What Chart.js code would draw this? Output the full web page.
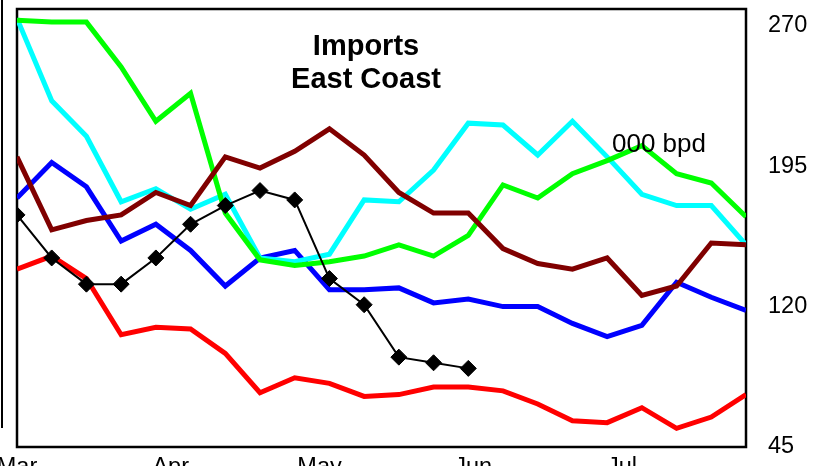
<!DOCTYPE html>
<html>
<head>
<meta charset="utf-8">
<script src="https://cdn.jsdelivr.net/npm/chart.js@4/dist/chart.umd.min.js"></script>
<style>
  html, body { margin: 0; padding: 0; background: #fff; }
  #wrap { position: relative; width: 818px; height: 466px; overflow: hidden; }
  #edge { position: absolute; left: 1px; top: 0; width: 2px; height: 428px; background: #000; }
  canvas { position: absolute; left: 0; top: 0; }
</style>
</head>
<body>
<div id="wrap">
  <canvas id="chart" width="818" height="466"></canvas>
  <div id="edge"></div>
</div>
<script>
// Weekly observations, as days since 1 March
const weekDays = [0, 7, 14, 21, 28, 35, 42, 49, 56, 63, 70, 77, 84, 91, 98, 105, 112, 119, 126, 133, 140, 147];

// Month boundaries on the same day axis, and their labels
const monthDays = [0, 31, 61, 92, 122];
const monthLabels = ['Mar', 'Apr', 'May', 'Jun', 'Jul'];

// Right-hand axis ticks (000 bpd)
const yTicks = [45, 120, 195, 270];

// Weekly East Coast imports, 000 bpd
const limeSeries   = [273, 272, 272, 248, 219, 234, 170, 145, 142, 144, 147, 153, 147, 158, 185, 178, 191, 198, 206, 191, 186, 168];
const cyanSeries   = [274, 230, 211, 176, 183, 172, 180, 146, 144, 148, 177, 176, 193, 218, 217, 201, 219, 200, 180, 174, 174, 153];
const maroonSeries = [200, 161, 166, 169, 181, 174, 200, 194, 203, 215, 201, 181, 170, 170, 151, 143, 140, 146, 126, 131, 154, 153];
const blueSeries   = [178, 197, 184, 155, 164, 150, 131, 146, 150, 129, 129, 130, 122, 124, 120, 120, 111, 104, 110, 133, 125, 118];
const redSeries    = [140, 147, 135, 105, 109, 108,  95,  74,  82,  79,  72,  73,  77,  77,  75,  68,  59,  58,  66,  55,  61,  73];
const currentYear  = [169, 146, 132, 132, 146, 164, 174, 182, 177, 135, 121,  93,  90,  87];

const toPoints = (vals) => vals.map((v, i) => ({ x: weekDays[i], y: v }));

const FONT = "'Liberation Sans', Arial, Helvetica, sans-serif";
Chart.defaults.font.family = FONT;
Chart.defaults.color = '#000';

// Black frame round the plot area
const frame = {
  id: 'frame',
  beforeDatasetsDraw(chart) {
    const { ctx, chartArea: a } = chart;
    ctx.save();
    ctx.strokeStyle = '#000';
    ctx.lineWidth = 2.5;
    ctx.strokeRect(a.left, a.top, a.right - a.left, a.bottom - a.top);
    ctx.restore();
  }
};

// Title and unit text inside the plot
const captions = {
  id: 'captions',
  afterDatasetsDraw(chart) {
    const { ctx } = chart;
    ctx.save();
    ctx.fillStyle = '#000';
    ctx.textBaseline = 'alphabetic';
    ctx.textAlign = 'center';
    ctx.font = 'bold 29px ' + FONT;
    ctx.fillText('Imports', 366, 54.5);
    ctx.fillText('East Coast', 366, 87.5);
    ctx.textAlign = 'left';
    ctx.font = '26px ' + FONT;
    ctx.fillText('000 bpd', 612, 152);
    ctx.restore();
  }
};

const thick = (label, color, vals, order) => ({
  label, data: toPoints(vals), borderColor: color, backgroundColor: color,
  borderWidth: 5, pointRadius: 0, tension: 0, order
});

new Chart(document.getElementById('chart'), {
  type: 'line',
  data: {
    datasets: [
      {
        label: 'Current', data: toPoints(currentYear),
        borderColor: '#000', backgroundColor: '#000', borderWidth: 2,
        pointStyle: 'rectRot', pointRadius: 8, pointBorderWidth: 1,
        pointBackgroundColor: '#000', pointBorderColor: '#000', tension: 0, order: 0
      },
      thick('Maroon', '#800000', maroonSeries, 1),
      thick('Lime', '#00ff00', limeSeries, 2),
      thick('Cyan', '#00ffff', cyanSeries, 3),
      thick('Blue', '#0000ff', blueSeries, 4),
      thick('Red', '#ff0000', redSeries, 5)
    ]
  },
  options: {
    responsive: false,
    animation: false,
    layout: { padding: { left: 17, top: 6, right: 0, bottom: 0 } },
    plugins: { legend: { display: false }, tooltip: { enabled: false }, title: { display: false } },
    scales: {
      x: {
        type: 'linear', position: 'bottom', min: 0, max: 147,
        grid: { display: false, drawTicks: false },
        border: { display: false },
        afterBuildTicks: (s) => { s.ticks = monthDays.map(v => ({ value: v })); },
        afterFit: (s) => { s.height = 19; s.paddingLeft = 0; s.paddingRight = 0; },
        ticks: {
          autoSkip: false, maxRotation: 0, padding: 6,
          font: { size: 23.5 }, color: '#000',
          callback: (v) => monthLabels[monthDays.indexOf(v)]
        }
      },
      y: {
        type: 'linear', position: 'right', min: 45, max: 279,
        grid: { display: false, drawTicks: false },
        border: { display: false },
        afterBuildTicks: (s) => { s.ticks = yTicks.map(v => ({ value: v })); },
        afterFit: (s) => { s.width = 72; s.paddingTop = 0; s.paddingBottom = 0; },
        ticks: { padding: 22, font: { size: 23.5 }, color: '#000' }
      }
    }
  },
  plugins: [frame, captions]
});
</script>
</body>
</html>
